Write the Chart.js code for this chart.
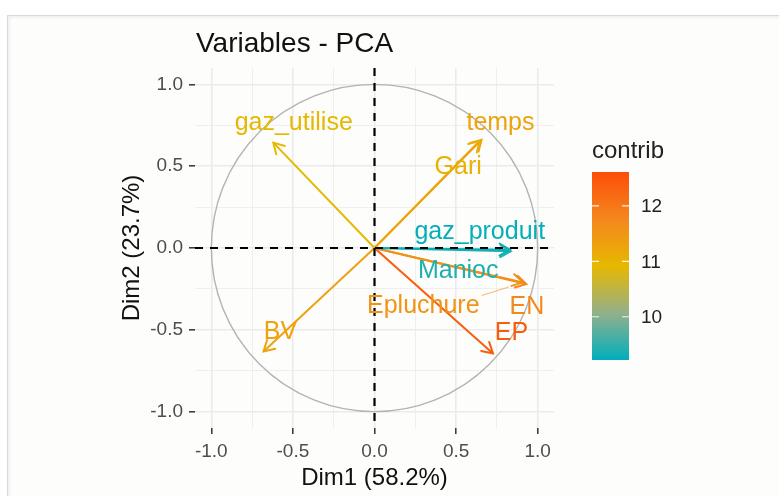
<!DOCTYPE html>
<html>
<head>
<meta charset="utf-8">
<script src="https://cdn.jsdelivr.net/npm/chart.js@4"></script>
<style>
  html, body { margin: 0; padding: 0; background: #fff; }
  #wrap { position: relative; width: 779px; height: 496px; overflow: hidden; }
  #frame {
    position: absolute; left: 7px; top: 15px; right: -10px; bottom: -10px;
    background: #fdfdfc;
    border-left: 1px solid #dadada; border-top: 1px solid #dadada;
    box-shadow: inset 2px 2px 3px rgba(0, 0, 0, 0.05);
  }
  canvas { position: absolute; left: 0; top: 0; }
</style>
</head>
<body>
<div id="wrap">
  <div id="frame"></div>
  <canvas id="pcaVar" width="779" height="496"></canvas>
</div>
<script>
// variable coordinates on Dim1 / Dim2
const variables = ["gaz_utilise", "temps", "Gari", "gaz_produit", "Manioc", "Epluchure", "EN", "EP", "BV"];
const dim1 = [-0.62, 0.656, 0.645, 0.83, 0.835, 0.91, 0.93, 0.726, -0.68];
const dim2 = [0.644, 0.661, 0.655, -0.01, -0.02, -0.21, -0.22, -0.644, -0.632];
const contrib = [10.9, 11.3, 11.05, 9.25, 9.4, 11.55, 11.75, 12.4, 11.3];
// where the (repelled) text labels sit, in data units
const labelDim1 = [-0.495, 0.772, 0.513, 0.645, 0.513, 0.299, 0.934, 0.839, -0.576];
const labelDim2 = [0.763, 0.763, 0.493, 0.098, -0.141, -0.358, -0.362, -0.521, -0.515];

const axisTicks = [-1, -0.5, 0, 0.5, 1];
const minorTicks = [-0.75, -0.25, 0.25, 0.75];
const legendTicks = [10, 11, 12];
const contribRange = [9.22, 12.61];
// teal -> yellow -> orange-red, with in-between stops to mimic the Lab blend
const gradientStops = [0, 0.25, 0.5, 0.75, 1];
const gradientColours = ["#00AFBB", "#93B08A", "#E7B800", "#F4871E", "#FC4E07"];

const FONT = "'Liberation Sans', Arial, Helvetica, sans-serif";

function hexToRgb(h) {
  const n = parseInt(h.slice(1), 16);
  return [(n >> 16) & 255, (n >> 8) & 255, n & 255];
}

// same gradient as the colour bar
function contribColour(v) {
  let t = (v - contribRange[0]) / (contribRange[1] - contribRange[0]);
  t = Math.min(1, Math.max(0, t));
  let k = 0;
  while (k < gradientStops.length - 2 && t > gradientStops[k + 1]) k++;
  const f = (t - gradientStops[k]) / (gradientStops[k + 1] - gradientStops[k]);
  const a = hexToRgb(gradientColours[k]);
  const b = hexToRgb(gradientColours[k + 1]);
  const c = a.map((ch, j) => Math.round(ch + (b[j] - ch) * f));
  return `rgb(${c[0]},${c[1]},${c[2]})`;
}

const isMajor = (v) => axisTicks.some((t) => Math.abs(t - v) < 1e-9);
const gridValues = [...axisTicks, ...minorTicks].sort((a, b) => a - b);

const datasets = variables.map((name, i) => ({
  label: name,
  data: [{ x: 0, y: 0 }, { x: dim1[i], y: dim2[i] }],
  showLine: true,
  borderColor: contribColour(contrib[i]),
  borderWidth: 2,
  pointRadius: 0,
  clip: false,
}));

function axisOptions(sizeKey, size) {
  return {
    type: "linear",
    min: -1.1,
    max: 1.1,
    afterFit: (scale) => { scale[sizeKey] = size; },
    afterBuildTicks: (scale) => { scale.ticks = gridValues.map((v) => ({ value: v })); },
    ticks: {
      autoSkip: false,
      maxRotation: 0,
      padding: 6,
      color: "#4d4d4d",
      font: { family: FONT, size: 19 },
      callback: (v) => (isMajor(v) ? v.toFixed(1) : ""),
    },
    grid: {
      color: "#ebebeb",
      lineWidth: (c) => (c.tick && isMajor(c.tick.value) ? 1.6 : 0.8),
      tickColor: (c) => (c.tick && isMajor(c.tick.value) ? "#333" : "rgba(0,0,0,0)"),
      tickLength: 6,
      tickWidth: 1.5,
    },
    border: { display: false },
  };
}

const pcaDecor = {
  id: "pcaDecor",
  beforeDatasetsDraw(chart) {
    const { ctx, scales: { x, y } } = chart;
    // correlation circle
    ctx.save();
    ctx.strokeStyle = "#b3b3b3";
    ctx.lineWidth = 1.4;
    ctx.beginPath();
    ctx.ellipse(
      x.getPixelForValue(0), y.getPixelForValue(0),
      x.getPixelForValue(1) - x.getPixelForValue(0),
      y.getPixelForValue(0) - y.getPixelForValue(1),
      0, 0, 2 * Math.PI
    );
    ctx.stroke();
    ctx.restore();
  },
  afterDatasetsDraw(chart) {
    const { ctx, chartArea, scales: { x, y } } = chart;
    ctx.save();
    // open arrow heads
    ctx.lineWidth = 2;
    ctx.lineCap = "round";
    variables.forEach((name, i) => {
      const x0 = x.getPixelForValue(0), y0 = y.getPixelForValue(0);
      const x1 = x.getPixelForValue(dim1[i]), y1 = y.getPixelForValue(dim2[i]);
      const ang = Math.atan2(y1 - y0, x1 - x0);
      const len = 12, spread = Math.PI / 6;
      ctx.strokeStyle = contribColour(contrib[i]);
      ctx.beginPath();
      ctx.moveTo(x1 - len * Math.cos(ang - spread), y1 - len * Math.sin(ang - spread));
      ctx.lineTo(x1, y1);
      ctx.lineTo(x1 - len * Math.cos(ang + spread), y1 - len * Math.sin(ang + spread));
      ctx.stroke();
    });

    // dashed axes through the origin
    ctx.strokeStyle = "#000";
    ctx.lineWidth = 2.2;
    ctx.lineCap = "butt";
    ctx.setLineDash([8, 7]);
    ctx.beginPath();
    ctx.moveTo(chartArea.left, y.getPixelForValue(0));
    ctx.lineTo(chartArea.right, y.getPixelForValue(0));
    ctx.moveTo(x.getPixelForValue(0), chartArea.top);
    ctx.lineTo(x.getPixelForValue(0), chartArea.bottom);
    ctx.stroke();
    ctx.setLineDash([]);

    // labels (+ segment when the label was pushed away from its arrow)
    ctx.font = `25px ${FONT}`;
    ctx.textAlign = "center";
    ctx.textBaseline = "middle";
    variables.forEach((name, i) => {
      const lx = x.getPixelForValue(labelDim1[i]), ly = y.getPixelForValue(labelDim2[i]);
      const px = x.getPixelForValue(dim1[i]), py = y.getPixelForValue(dim2[i]);
      const hw = ctx.measureText(name).width / 2 + 2, hh = 11;
      const nx = Math.min(Math.max(px, lx - hw), lx + hw);
      const ny = Math.min(Math.max(py, ly - hh), ly + hh);
      const d = Math.hypot(px - nx, py - ny);
      const col = contribColour(contrib[i]);
      if (d > 30) {
        const shorten = 15 / d;
        ctx.strokeStyle = col;
        ctx.globalAlpha = 0.6;
        ctx.lineWidth = 1.1;
        ctx.beginPath();
        ctx.moveTo(nx, ny);
        ctx.lineTo(px - (px - nx) * shorten, py - (py - ny) * shorten);
        ctx.stroke();
        ctx.globalAlpha = 1;
      }
      ctx.fillStyle = col;
      ctx.fillText(name, lx, ly);
    });
    ctx.restore();
  },
  afterDraw(chart) {
    const { ctx, chartArea } = chart;
    ctx.save();
    // title
    ctx.fillStyle = "#111";
    ctx.font = `28px ${FONT}`;
    ctx.textAlign = "left";
    ctx.textBaseline = "alphabetic";
    ctx.fillText("Variables - PCA", chartArea.left + 1, 52);

    // axis titles
    ctx.font = `24px ${FONT}`;
    ctx.textAlign = "center";
    ctx.fillText("Dim1 (58.2%)", (chartArea.left + chartArea.right) / 2, 485);
    ctx.save();
    ctx.translate(132, (chartArea.top + chartArea.bottom) / 2);
    ctx.rotate(-Math.PI / 2);
    ctx.textBaseline = "middle";
    ctx.fillText("Dim2 (23.7%)", 0, 0);
    ctx.restore();

    // colour bar legend
    const barL = 592, barR = 629, barT = 172, barB = 360;
    const toY = (v) => barB - (v - contribRange[0]) / (contribRange[1] - contribRange[0]) * (barB - barT);
    const grad = ctx.createLinearGradient(0, barB, 0, barT);
    gradientColours.forEach((c, k) => grad.addColorStop(gradientStops[k], c));
    ctx.fillStyle = grad;
    ctx.fillRect(barL, barT, barR - barL, barB - barT);

    ctx.strokeStyle = "rgba(255,255,255,0.85)";
    ctx.lineWidth = 1.2;
    ctx.font = `19px ${FONT}`;
    ctx.textAlign = "left";
    ctx.textBaseline = "middle";
    ctx.fillStyle = "#222";
    legendTicks.forEach((v) => {
      const ty = toY(v);
      ctx.beginPath();
      ctx.moveTo(barL, ty); ctx.lineTo(barL + 7, ty);
      ctx.moveTo(barR - 7, ty); ctx.lineTo(barR, ty);
      ctx.stroke();
      ctx.fillText(String(v), 641, ty + 1);
    });
    ctx.font = `24px ${FONT}`;
    ctx.fillText("contrib", barL, 151);
    ctx.restore();
  },
};

new Chart(document.getElementById("pcaVar"), {
  type: "scatter",
  data: { datasets },
  options: {
    responsive: false,
    animation: false,
    devicePixelRatio: 1,
    layout: { padding: { left: 95, right: 225, top: 68, bottom: 18 } },
    plugins: {
      legend: { display: false },
      tooltip: { enabled: false },
      title: { display: false },
    },
    scales: {
      x: axisOptions("height", 50),
      y: axisOptions("width", 100),
    },
  },
  plugins: [pcaDecor],
});
</script>
</body>
</html>
